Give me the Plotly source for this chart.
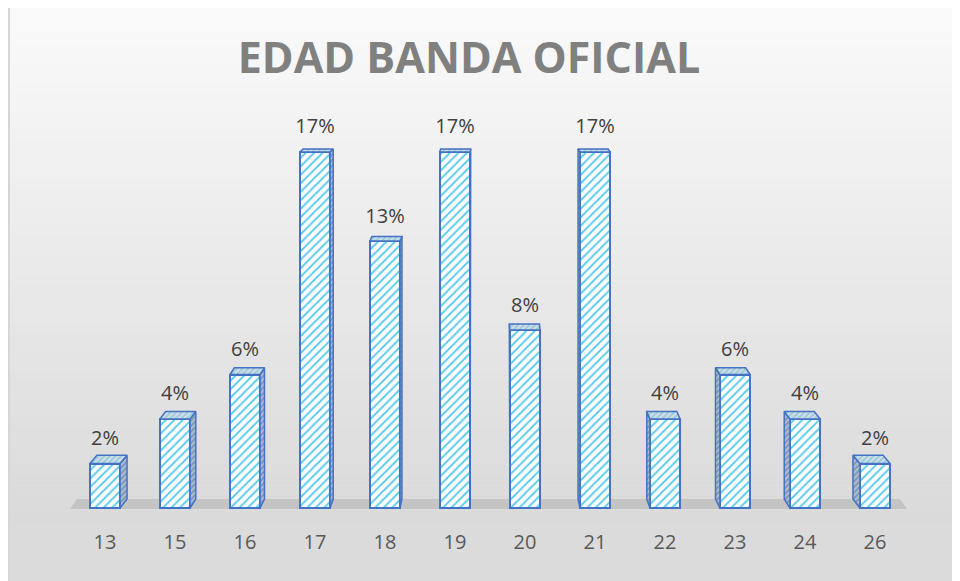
import plotly.graph_objects as go

# ---------------- data ----------------
edades = ["13", "15", "16", "17", "18", "19", "20", "21", "22", "23", "24", "26"]
porcentajes = [2.08, 4.17, 6.25, 16.67, 12.50, 16.67, 8.33, 16.67, 4.17, 6.25, 4.17, 2.08]
etiquetas = ["2%", "4%", "6%", "17%", "13%", "17%", "8%", "17%", "4%", "6%", "4%", "2%"]
titulo = "EDAD BANDA OFICIAL"

# ---------------- geometry / style ----------------
# the page body adds an 8px offset: work in page pixels and convert
OFF = 8
PAGE_W, PAGE_H = 960, 581
W, H = PAGE_W - OFF, PAGE_H - OFF
L, R = 70 - OFF, PAGE_W - 910
T = 100 - OFF
B = PAGE_H - 528
PW, PH = W - L - R, H - T - B
n = len(edades)
PX_X = PW / n                 # px per category unit
PX_Y = 21.36                  # px per percent
BASE_PX = 508                 # page pixel row of value 0
y_max = (BASE_PX - 100) / PX_Y
y_min = -(528 - BASE_PX) / PX_Y
HALF = 0.215                  # half bar width in category units
CENTER = (n - 1) / 2

def px2paper_x(page_px):
    return (page_px - OFF - L) / PW

def px2paper_y(page_py):
    return (H - B - (page_py - OFF)) / PH

# ---------------- 3D faces (derived from data) ----------------
side_x, side_y, top_x, top_y = [], [], [], []
for i, v in enumerate(porcentajes):
    xl, xr = i - HALF, i + HALF
    dx = 7 * (CENTER - i) / CENTER / PX_X
    dyt = (9 - 0.36 * v) / PX_Y
    dyb = 9 / PX_Y
    if dx * PX_X > 0.5:
        side_x += [xr, xr, xr + dx, xr + dx, xr, None]
        side_y += [0, v, v + dyt, dyb, 0, None]
    elif dx * PX_X < -0.5:
        side_x += [xl, xl, xl + dx, xl + dx, xl, None]
        side_y += [0, v, v + dyt, dyb, 0, None]
    top_x += [xl, xr, xr + dx, xl + dx, xl, None]
    top_y += [v, v, v + dyt, v + dyt, v, None]

BLUE = "#4472c4"
fig = go.Figure()

fig.add_trace(go.Bar(
    x=list(range(n)), y=porcentajes, width=2 * HALF,
    marker=dict(
        color="white",
        line=dict(color=BLUE, width=2),
        pattern=dict(shape="/", fgcolor="#4fc8ee", bgcolor="#fbfdfe",
                     size=6, solidity=0.3, fillmode="replace"),
    ),
    hoverinfo="skip", showlegend=False,
))

fig.add_trace(go.Scatter(
    x=side_x, y=side_y, mode="lines", fill="toself",
    line=dict(color=BLUE, width=1.5),
    fillcolor="#aebccb",
    fillpattern=dict(shape="/", fgcolor="#3a66b5", bgcolor="#b0bdca",
                     size=4, solidity=0.45),
    hoverinfo="skip", showlegend=False,
))
fig.add_trace(go.Scatter(
    x=top_x, y=top_y, mode="lines", fill="toself",
    line=dict(color=BLUE, width=1.5),
    fillcolor="#cfdbe3",
    fillpattern=dict(shape="/", fgcolor="#4cb8dc", bgcolor="#d2dce2",
                     size=4, solidity=0.4),
    hoverinfo="skip", showlegend=False,
))

fig.add_trace(go.Scatter(
    x=list(range(n)), y=[v + 23.5 / PX_Y for v in porcentajes],
    mode="text", text=etiquetas, textposition="middle center",
    textfont=dict(family="Open Sans", size=20, color="#404040"),
    hoverinfo="skip", showlegend=False,
))

# ---------------- background gradient, border, floor ----------------
shapes = []
NB = 60
top_px, bot_px = 6, PAGE_H
for k in range(NB):
    y0 = top_px + (bot_px - top_px) * k / NB
    y1 = top_px + (bot_px - top_px) * (k + 1) / NB
    ym = (y0 + y1) / 2
    if ym < 520:
        g = 250 - (250 - 218) * (ym - 6) / (520 - 6)
    else:
        g = 219
    g = int(round(g))
    shapes.append(dict(type="rect", xref="paper", yref="paper", layer="below",
                       x0=px2paper_x(8), x1=px2paper_x(PAGE_W + 2),
                       y0=px2paper_y(y1 + 0.5), y1=px2paper_y(y0),
                       line=dict(width=0), fillcolor=f"rgb({g},{g},{g})"))
shapes.append(dict(type="line", xref="paper", yref="paper",
                   x0=px2paper_x(9), x1=px2paper_x(9),
                   y0=px2paper_y(PAGE_H + 2), y1=px2paper_y(6),
                   line=dict(color="#d6d6d6", width=2)))
# floor
fl0, fr0 = -0.5, n - 1 + 0.457
fd = 7 / PX_X
shapes.append(dict(type="path", xref="x", yref="y", layer="below",
                   path=(f"M {fl0},{-1 / PX_Y} L {fr0},{-1 / PX_Y} "
                         f"L {fr0 - fd},{9 / PX_Y} L {fl0 + fd},{9 / PX_Y} Z"),
                   line=dict(width=0), fillcolor="#c4c4c4"))

fig.update_layout(
    width=W, height=H,
    margin=dict(l=L, r=R, t=T, b=B),
    paper_bgcolor="white",
    plot_bgcolor="rgba(0,0,0,0)",
    shapes=shapes,
    title=dict(text=f"<b>{titulo}</b>", x=(469 - OFF) / W, xanchor="center",
               y=1 - (58 - OFF) / H, yanchor="middle",
               font=dict(family="Open Sans", size=43, color="#808080")),
    xaxis=dict(range=[-0.5, n - 0.5], tickmode="array",
               tickvals=list(range(n)), ticktext=edades,
               showgrid=False, zeroline=False, showline=False, ticks="",
               tickfont=dict(family="Open Sans", size=20, color="#595959"),
               fixedrange=True),
    yaxis=dict(range=[y_min, y_max], showgrid=False, zeroline=False,
               showline=False, showticklabels=False, ticks="", fixedrange=True),
    bargap=0,
)

fig.write_html("out.html")
